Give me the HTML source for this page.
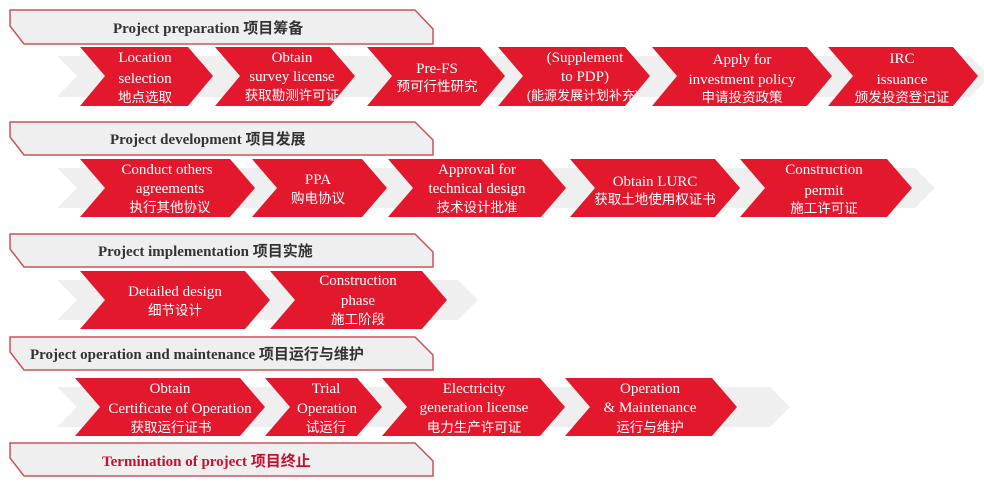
<!DOCTYPE html>
<html><head><meta charset="utf-8"><style>
body{margin:0;background:#fff;width:984px;height:492px;overflow:hidden}
svg text{font-family:"Liberation Serif","Noto Serif CJK SC",serif}
.w{fill:#fff;font-size:15px;text-anchor:middle}
.c{fill:#fff;font-size:13.5px;text-anchor:middle;font-family:"Liberation Sans","Noto Sans CJK SC",sans-serif}
.h{font-size:15px;font-weight:bold;fill:#333}
.hc{font-family:"Liberation Sans","Noto Sans CJK SC",sans-serif;font-size:15px;font-weight:bold;fill:#333}
</style></head><body>
<svg width="984" height="492" xmlns="http://www.w3.org/2000/svg">
<g fill="#efefef">
<polygon points="57,56 970,56 990,76 970,97 57,97 77,76"/>
<polygon points="57,168 915,168 935,188 915,208 57,208 77,188"/>
<polygon points="57,280 458,280 478,300 458,320 57,320 77,300"/>
<polygon points="57,387 770,387 790,407 770,427 57,427 77,407"/>
</g>
<g fill="#e3182d">
<polygon points="80,47 188,47 213,76 188,106 80,106 105,76"/>
<polygon points="215,47 330,47 355,76 330,106 215,106 240,76"/>
<polygon points="367,47 480,47 505,76 480,106 367,106 392,76"/>
<polygon points="498,47 625,47 650,76 625,106 498,106 523,76"/>
<polygon points="652,47 807,47 832,76 807,106 652,106 677,76"/>
<polygon points="828,47 953,47 978,76 953,106 828,106 853,76"/>
<polygon points="80,159 230,159 255,188 230,217 80,217 105,188"/>
<polygon points="252,159 362,159 387,188 362,217 252,217 277,188"/>
<polygon points="388,159 541,159 566,188 541,217 388,217 413,188"/>
<polygon points="570,159 715,159 740,188 715,217 570,217 595,188"/>
<polygon points="740,159 887,159 912,188 887,217 740,217 765,188"/>
<polygon points="80,271 245,271 270,300 245,329 80,329 105,300"/>
<polygon points="270,271 422,271 447,300 422,329 270,329 295,300"/>
<polygon points="75,378 240,378 265,407 240,436 75,436 100,407"/>
<polygon points="265,378 357,378 382,407 357,436 265,436 290,407"/>
<polygon points="382,378 540,378 565,407 540,436 382,436 407,407"/>
<polygon points="565,378 712,378 737,407 712,436 565,436 590,407"/>
</g>
<g fill="#efefef" stroke="#d0505a" stroke-width="1.5">
<polygon points="10,10 415,10 433,29 433,44 24,44 10,26"/>
<polygon points="10,122 415,122 433,140 433,155 24,155 10,137"/>
<polygon points="10,234 415,234 433,252 433,267 24,267 10,249"/>
<polygon points="10,337 415,337 433,355 433,370 24,370 10,352"/>
<polygon points="10,443 415,443 433,461 433,476 24,476 10,458"/>
</g>
<text x="113" y="33" class="h">Project preparation <tspan class="hc">项目筹备</tspan></text>
<text x="110" y="144" class="h">Project development <tspan class="hc">项目发展</tspan></text>
<text x="98" y="256" class="h">Project implementation <tspan class="hc">项目实施</tspan></text>
<text x="30" y="359" class="h">Project operation and maintenance <tspan class="hc">项目运行与维护</tspan></text>
<text x="102" y="466" class="h" style="fill:#c8102e">Termination of project <tspan class="hc" style="fill:#c8102e">项目终止</tspan></text>

<text class="w" x="145" y="62">Location</text><text class="w" x="145" y="83">selection</text><text class="c" x="145" y="102">地点选取</text>
<text class="w" x="292" y="62">Obtain</text><text class="w" x="292" y="81">survey license</text><text class="c" x="292" y="100">获取勘测许可证</text>
<text class="w" x="437" y="73">Pre-FS</text><text class="c" x="437" y="91">预可行性研究</text>
<text class="w" x="585" y="62">(Supplement</text><text class="w" x="585" y="81">to PDP)</text><text class="c" x="583" y="100" style="font-size:13px">(能源发展计划补充)</text>
<text class="w" x="742" y="64">Apply for</text><text class="w" x="742" y="84">investment policy</text><text class="c" x="742" y="102">申请投资政策</text>
<text class="w" x="902" y="63">IRC</text><text class="w" x="902" y="84">issuance</text><text class="c" x="902" y="102">颁发投资登记证</text>

<text class="w" x="167" y="174">Conduct others</text><text class="w" x="170" y="193">agreements</text><text class="c" x="170" y="212">执行其他协议</text>
<text class="w" x="318" y="184">PPA</text><text class="c" x="318" y="203">购电协议</text>
<text class="w" x="477" y="174">Approval for</text><text class="w" x="477" y="193">technical design</text><text class="c" x="477" y="212">技术设计批准</text>
<text class="w" x="655" y="186">Obtain LURC</text><text class="c" x="655" y="204">获取土地使用权证书</text>
<text class="w" x="824" y="174">Construction</text><text class="w" x="824" y="195">permit</text><text class="c" x="824" y="213">施工许可证</text>

<text class="w" x="175" y="296">Detailed design</text><text class="c" x="175" y="315">细节设计</text>
<text class="w" x="358" y="285">Construction</text><text class="w" x="358" y="305">phase</text><text class="c" x="358" y="324">施工阶段</text>

<text class="w" x="170" y="393">Obtain</text><text class="w" x="180" y="413">Certificate of Operation</text><text class="c" x="171" y="432">获取运行证书</text>
<text class="w" x="326" y="393">Trial</text><text class="w" x="327" y="413">Operation</text><text class="c" x="326" y="432">试运行</text>
<text class="w" x="474" y="393">Electricity</text><text class="w" x="474" y="412">generation license</text><text class="c" x="474" y="432">电力生产许可证</text>
<text class="w" x="650" y="393">Operation</text><text class="w" x="650" y="412">&amp; Maintenance</text><text class="c" x="650" y="432">运行与维护</text>
</svg>
</body></html>
